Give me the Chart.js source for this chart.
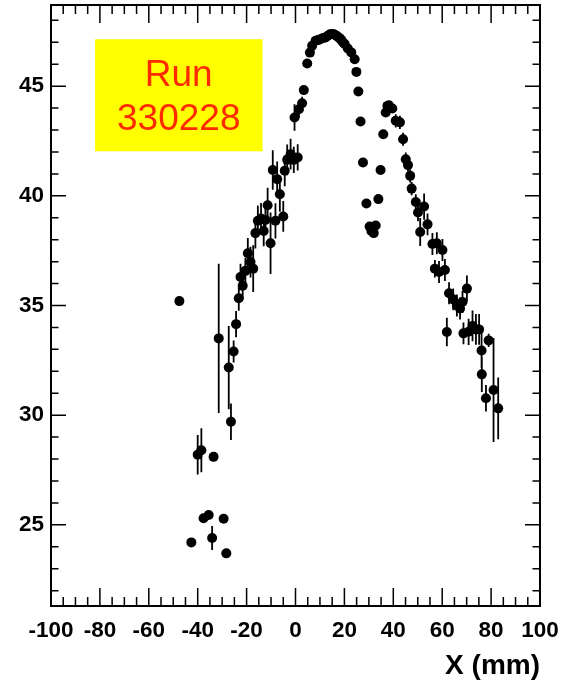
<!DOCTYPE html>
<html>
<head>
<meta charset="utf-8">
<script src="https://cdn.jsdelivr.net/npm/chart.js@4.4.1/dist/chart.umd.min.js"></script>
<style>
html,body{margin:0;padding:0;background:#fff;}
canvas{display:block;}
</style>
</head>
<body>
<canvas id="c" width="562" height="684"></canvas>
<script>
// ---- data ----
const xVals = [-47.5,-42.6,-40.0,-38.5,-37.6,-35.5,-34.1,-33.5,-31.4,-29.4,-28.3,-27.3,-26.4,-25.3,-24.3,-23.2,-22.5,-21.6,-20.5,-19.5,-18.4,-17.3,-16.4,-15.4,-14.1,-13.0,-12.3,-11.4,-10.2,-9.3,-8.2,-7.5,-6.4,-5.0,-4.4,-3.4,-2.0,-0.7,0.9,-0.4,1.4,2.7,3.4,4.8,5.9,6.8,8.2,9.2,10.2,11.3,12.3,13.2,14.1,15.0,15.7,16.4,17.1,17.9,18.7,19.4,20.1,21.4,22.8,24.2,24.9,25.7,26.6,27.6,29.0,30.3,31.0,32.0,32.8,33.9,34.8,35.9,36.9,37.6,38.2,39.6,41.0,42.7,44.0,45.1,46.0,46.9,47.5,49.2,50.1,51.0,52.6,54.0,56.0,57.0,57.8,58.7,60.1,61.1,61.9,62.8,64.5,66.0,67.3,68.3,68.7,70.1,70.8,72.4,73.8,75.1,76.1,76.2,77.9,79.0,81.0,82.9];
const yVals = [35.2,24.2,28.2,28.4,25.3,25.45,24.4,28.1,33.5,25.28,23.7,32.17,29.7,32.9,34.15,35.33,36.3,35.9,36.58,37.38,36.98,36.68,38.3,38.86,38.97,38.4,38.9,39.57,37.84,41.18,38.86,40.76,40.07,39.06,41.14,41.64,41.9,41.64,41.75,43.57,43.95,44.22,44.82,46.03,46.53,46.84,47.07,47.1,47.14,47.2,47.22,47.3,47.37,47.38,47.37,47.32,47.27,47.2,47.11,47.0,46.92,46.72,46.54,46.23,45.65,44.76,43.39,41.52,39.65,38.6,38.4,38.3,38.65,39.85,41.18,42.81,43.8,44.1,44.13,43.98,43.42,43.35,42.58,41.67,41.4,40.91,40.33,39.72,39.24,38.35,39.51,38.7,37.8,36.68,37.84,36.53,37.53,36.62,33.79,35.56,35.28,35.0,34.86,35.16,33.73,35.77,33.8,34.07,33.91,33.91,32.95,31.86,30.77,33.41,31.15,30.31];
const yErrs = [0,0,0.9,1.0,0,0,0.55,0,3.4,0,0,1.9,0.83,0.5,0.6,0.57,0.6,0.6,0.6,0.7,0.7,1.07,0.7,0.7,0.7,0.7,0.7,0.8,1.4,0.9,0.8,0.8,0.8,0.7,0.7,0.7,0.7,0.6,0.6,0.6,0.4,0.3,0.2,0.1,0,0,0,0,0,0,0,0,0,0,0,0,0,0,0,0,0,0,0,0,0,0,0,0,0,0,0,0,0,0,0,0,0,0,0,0,0.3,0.3,0.3,0.3,0.3,0.3,0.3,0.35,0.4,0.64,0.6,0.5,0.5,0.4,0.5,0.5,0.5,0.5,0.65,0.5,0.5,0.5,0.5,0.5,0.5,0.6,0.6,0.7,0.7,0.7,0.8,0.8,0.6,0.3,2.37,1.41];
const xTicks = [-100,-80,-60,-40,-20,0,20,40,60,80,100];
const yTicks = [25,30,35,40,45];
const xLabel = 'X (mm)';
const runText = ['Run','330228'];

const FONT = "'Liberation Sans', Arial, Helvetica, sans-serif";

const framePlugin = {
  id:'frame',
  beforeDatasetsDraw(chart){
    const {ctx, chartArea:a, scales:{x,y}} = chart;
    ctx.save();
    // run box
    const bx0 = x.getPixelForValue(-82), bx1 = x.getPixelForValue(-13.5);
    const by0 = y.getPixelForValue(47.14), by1 = y.getPixelForValue(42.03);
    ctx.fillStyle = '#ffff00';
    ctx.fillRect(bx0, by0, bx1-bx0, by1-by0);
    ctx.fillStyle = '#ff2a00';
    ctx.font = '37px ' + FONT;
    ctx.textAlign = 'center';
    ctx.textBaseline = 'middle';
    const cx = (bx0+bx1)/2;
    ctx.fillText(runText[0], cx, by0 + (by1-by0)*0.33);
    ctx.fillText(runText[1], cx, by0 + (by1-by0)*0.72);
    // error bars
    ctx.strokeStyle = '#000';
    ctx.lineWidth = 1.8;
    ctx.beginPath();
    for (let i=0;i<xVals.length;i++){
      if (!yErrs[i]) continue;
      const px = x.getPixelForValue(xVals[i]);
      ctx.moveTo(px, Math.max(a.top, y.getPixelForValue(yVals[i]+yErrs[i])));
      ctx.lineTo(px, Math.min(a.bottom, y.getPixelForValue(yVals[i]-yErrs[i])));
    }
    ctx.stroke();
    ctx.restore();
  },
  afterDraw(chart){
    const {ctx, chartArea:a, scales:{x,y}} = chart;
    ctx.save();
    ctx.strokeStyle = '#000';
    ctx.lineWidth = 1.5;
    ctx.beginPath();
    const xl = 18, yl = 15;
    for (let v=-100; v<=100; v+=5){
      const p = x.getPixelForValue(v);
      const L = (v % 20 === 0) ? xl : xl/2;
      ctx.moveTo(p, a.bottom); ctx.lineTo(p, a.bottom - L);
      ctx.moveTo(p, a.top); ctx.lineTo(p, a.top + L);
    }
    for (let v=22; v<=48; v+=1){
      const p = y.getPixelForValue(v);
      const L = (v % 5 === 0) ? yl : yl/2;
      ctx.moveTo(a.left, p); ctx.lineTo(a.left + L, p);
      ctx.moveTo(a.right, p); ctx.lineTo(a.right - L, p);
    }
    ctx.stroke();
    ctx.lineWidth = 2;
    ctx.strokeRect(a.left, a.top, a.right-a.left, a.bottom-a.top);
    ctx.restore();
  }
};

function noPad(s){ s.paddingLeft = 0; s.paddingRight = 0; s.paddingTop = 0; s.paddingBottom = 0; }

new Chart(document.getElementById('c'), {
  type:'scatter',
  data:{datasets:[{
    data: xVals.map((v,i)=>({x:v, y:yVals[i]})),
    pointRadius:5, pointHoverRadius:5,
    backgroundColor:'#000', borderColor:'#000', borderWidth:0
  }]},
  options:{
    responsive:false, animation:false, devicePixelRatio:1,
    layout:{padding:{top:5, right:22, left:0, bottom:0}},
    plugins:{legend:{display:false}, tooltip:{enabled:false}},
    scales:{
      x:{
        type:'linear', min:-100, max:100,
        afterBuildTicks:s=>{s.ticks = xTicks.map(v=>({value:v}));},
        afterFit:s=>{s.height = 78; noPad(s);},
        grid:{display:false, drawTicks:false}, border:{display:false},
        ticks:{color:'#000', font:{family:FONT, size:22.5, weight:'bold'}, padding:11, maxRotation:0, autoSkip:false},
        title:{display:true, text:xLabel, align:'end', color:'#000', font:{family:FONT, size:28, weight:'bold'}, padding:{top:0, bottom:1}}
      },
      y:{
        type:'linear', min:21.3, max:48.7,
        afterBuildTicks:s=>{s.ticks = yTicks.map(v=>({value:v}));},
        afterFit:s=>{s.width = 51; noPad(s);},
        grid:{display:false, drawTicks:false}, border:{display:false},
        ticks:{color:'#000', font:{family:FONT, size:22.5, weight:'bold'}, padding:7, autoSkip:false}
      }
    }
  },
  plugins:[framePlugin]
});
</script>
</body>
</html>
